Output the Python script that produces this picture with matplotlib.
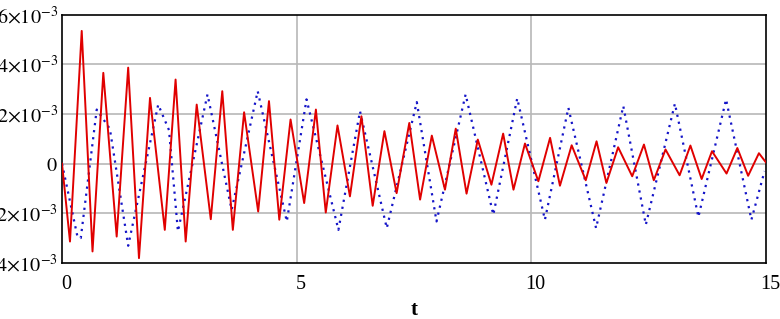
import matplotlib
matplotlib.use("Agg")
import matplotlib.pyplot as plt
from matplotlib.transforms import ScaledTranslation
import numpy as np

# values, in units of 1e-3
red_t = [0.0, 0.17, 0.42, 0.65, 0.88, 1.165, 1.41, 1.64, 1.875, 2.19, 2.42, 2.635,
         2.87, 3.17, 3.415, 3.64, 3.88, 4.18, 4.41, 4.63, 4.87, 5.16, 5.41, 5.62,
         5.87, 6.135, 6.38, 6.62, 6.87, 7.13, 7.40, 7.63, 7.88, 8.16, 8.39, 8.62,
         8.86, 9.15, 9.40, 9.62, 9.865, 10.15, 10.40, 10.61, 10.86, 11.16, 11.39,
         11.60, 11.85, 12.15, 12.40, 12.61, 12.86, 13.16, 13.39, 13.63, 13.85,
         14.16, 14.39, 14.62, 14.85, 15.0]
red_v = [0.0, -3.14, 5.35, -3.54, 3.66, -2.94, 3.87, -3.81, 2.65, -2.67, 3.39, -3.14,
         2.38, -2.24, 2.92, -2.67, 2.07, -1.93, 2.52, -2.26, 1.78, -1.59, 2.18, -1.97,
         1.54, -1.32, 1.91, -1.70, 1.31, -1.19, 1.64, -1.45, 1.13, -1.05, 1.41, -1.21,
         0.97, -0.85, 1.21, -1.05, 0.81, -0.71, 1.04, -0.89, 0.74, -0.67, 0.90,
         -0.78, 0.66, -0.51, 0.77, -0.67, 0.57, -0.47, 0.73, -0.62, 0.50,
         -0.40, 0.63, -0.49, 0.42, 0.05]

blue_t = [0.0, 0.33, 0.40, 0.74, 1.02, 1.41, 2.05, 2.28, 2.47, 3.10, 3.615, 4.17,
          4.79, 5.21, 5.89, 6.35, 6.92, 7.56, 7.98, 8.60, 9.19, 9.70, 10.29, 10.79,
          11.38, 11.96, 12.44, 13.06, 13.56, 14.15, 14.69, 14.97]
blue_v = [0.0, -2.95, -3.0, 2.18, 1.40, -3.31, 2.38, 1.35, -2.73, 2.79, -1.86, 2.92,
          -2.33, 2.59, -2.67, 2.11, -2.60, 2.48, -2.33, 2.79, -2.06, 2.63, -2.26, 2.25,
          -2.60, 2.32, -2.46, 2.42, -2.15, 2.59, -2.26, -0.3]

x_ticks = [0, 5, 10, 15]
y_ticks = [-4, -2, 0, 2, 4, 6]
y_tick_labels = [r"$-4{\times}10^{-3}$", r"$-2{\times}10^{-3}$", r"$0$",
                 r"$2{\times}10^{-3}$", r"$4{\times}10^{-3}$", r"$6{\times}10^{-3}$"]

plt.rcParams["font.family"] = ["Liberation Serif", "DejaVu Serif"]
plt.rcParams["mathtext.fontset"] = "stix"

fig = plt.figure(figsize=(7.8, 3.19), dpi=100)
ax = fig.add_axes([0.0795, 0.176, 0.9025, 0.7776])

scale = 1e-3
ax.plot(red_t, np.array(red_v) * scale, color="#e00000", lw=1.4, zorder=3)
ax.plot(blue_t, np.array(blue_v) * scale, color="#1414c8", lw=1.6,
        linestyle=(0, (1, 2.2)), zorder=2)

ax.set_xlim(0, 15)
ax.set_ylim(-4 * scale, 6 * scale)

for yv in [-2, 0, 2, 4]:
    ax.axhline(yv * scale, color="#b8b8b8", lw=1.2, zorder=1)
for xv in [5, 10]:
    ax.axvline(xv, color="#b8b8b8", lw=1.2, zorder=1)

ax.set_xticks(x_ticks)
ax.set_xticklabels([str(v) for v in x_ticks])
ax.set_yticks([v * scale for v in y_ticks])
ax.set_yticklabels(y_tick_labels)
ax.tick_params(axis="both", length=0, labelsize=14.5)
ax.tick_params(axis="x", pad=9)
ax.tick_params(axis="y", pad=3)

shift = ScaledTranslation(4 / 100, 0, fig.dpi_scale_trans)
for lab in ax.get_xticklabels():
    lab.set_transform(lab.get_transform() + shift)

ax.set_xlabel("t", fontsize=15, fontweight="bold", labelpad=4)

for sp in ax.spines.values():
    sp.set_linewidth(1.2)
    sp.set_color("black")

fig.savefig("out.png", dpi=100)
